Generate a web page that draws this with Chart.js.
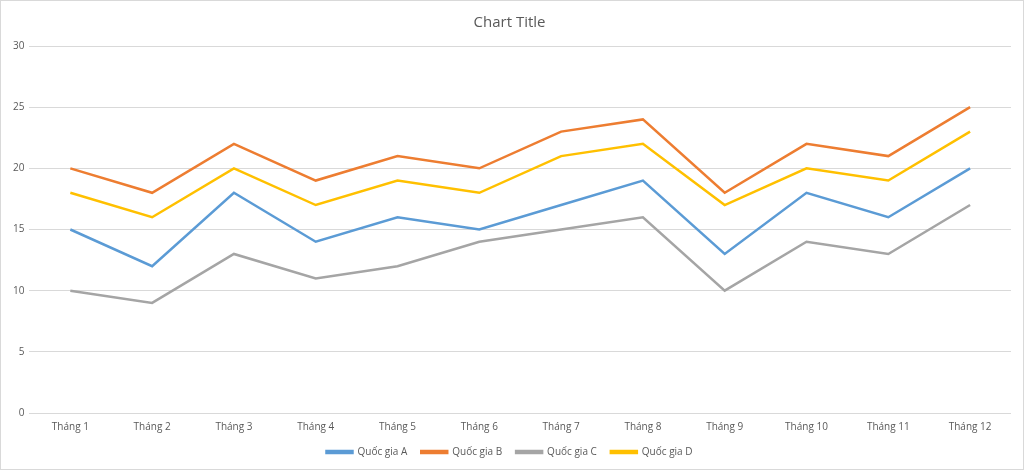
<!DOCTYPE html>
<html>
<head>
<meta charset="utf-8">
<script src="https://cdn.jsdelivr.net/npm/chart.js@4/dist/chart.umd.min.js"></script>
<style>
  html, body { margin: 0; padding: 0; background: #fff; }
  #wrap { width: 1022px; height: 468px; border: 1px solid #d9d9d9; }
</style>
</head>
<body>
<div id="wrap"><canvas id="lineChart" width="1022" height="468"></canvas></div>
<script>
// Data
const months = ['Tháng 1', 'Tháng 2', 'Tháng 3', 'Tháng 4', 'Tháng 5', 'Tháng 6',
                'Tháng 7', 'Tháng 8', 'Tháng 9', 'Tháng 10', 'Tháng 11', 'Tháng 12'];
const seriesNames = ['Quốc gia A', 'Quốc gia B', 'Quốc gia C', 'Quốc gia D'];
const valuesA = [15, 12, 18, 14, 16, 15, 17, 19, 13, 18, 16, 20];
const valuesB = [20, 18, 22, 19, 21, 20, 23, 24, 18, 22, 21, 25];
const valuesC = [10, 9, 13, 11, 12, 14, 15, 16, 10, 14, 13, 17];
const valuesD = [18, 16, 20, 17, 19, 18, 21, 22, 17, 20, 19, 23];
const yTicks = [0, 5, 10, 15, 20, 25, 30];

const colors = ['#5B9BD5', '#ED7D31', '#A5A5A5', '#FFC000'];
const allValues = [valuesA, valuesB, valuesC, valuesD];

const ctx = document.getElementById('lineChart').getContext('2d');

new Chart(ctx, {
    type: 'line',
    data: {
        labels: months,
        datasets: allValues.map(function(vals, i) {
            return {
                label: seriesNames[i],
                data: vals,
                borderColor: colors[i],
                backgroundColor: colors[i],
                borderWidth: 2.5,
                pointRadius: 0,
                tension: 0,
                fill: false
            };
        })
    },
    options: {
        responsive: false,
        animation: false,
        layout: {
            padding: { left: 7, right: 12, top: 7, bottom: 2 }
        },
        plugins: {
            title: {
                display: true,
                text: 'Chart Title',
                color: '#595959',
                font: { family: 'Open Sans', size: 15, weight: 'normal' },
                padding: { top: 6, bottom: 14 }
            },
            legend: {
                position: 'bottom',
                labels: {
                    color: '#595959',
                    font: { family: 'Open Sans', size: 10 },
                    boxWidth: 26,
                    boxHeight: 2,
                    padding: 14
                }
            },
            tooltip: { enabled: false }
        },
        scales: {
            y: {
                min: 0,
                max: 30,
                afterBuildTicks: function(axis) {
                    axis.ticks = yTicks.map(function(v) { return { value: v }; });
                },
                ticks: {
                    color: '#595959',
                    font: { family: 'Open Sans', size: 10 },
                    padding: 5
                },
                grid: {
                    color: '#d9d9d9',
                    drawTicks: false
                },
                border: { display: false }
            },
            x: {
                offset: true,
                ticks: {
                    color: '#595959',
                    font: { family: 'Open Sans', size: 10 },
                    padding: 0,
                    maxRotation: 0
                },
                grid: { display: false },
                border: { display: false }
            }
        }
    }
});
</script>
</body>
</html>
